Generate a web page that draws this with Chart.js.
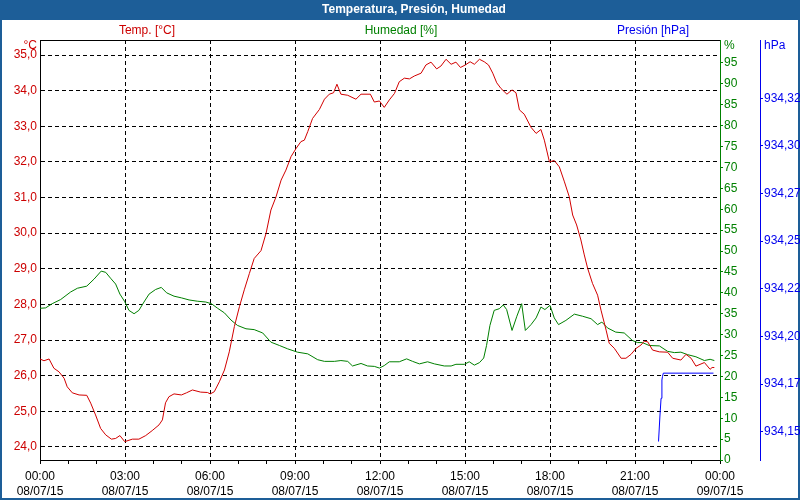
<!DOCTYPE html>
<html>
<head>
<meta charset="utf-8">
<script src="https://cdn.jsdelivr.net/npm/chart.js@4/dist/chart.umd.min.js"></script>
<style>
  html, body { margin: 0; padding: 0; background: #ffffff; }
  #wrap { width: 800px; height: 500px; position: relative; }
</style>
</head>
<body>
<div id="wrap"><canvas id="c" width="800" height="500"></canvas></div>
<script>
// ---------- DATA ----------
const chartTitle = 'Temperatura, Presión, Humedad';
const seriesNames = ['Temp. [°C]', 'Humedad [%]', 'Presión [hPa]'];
const unitNames = ['°C', '%', 'hPa'];

const xMajorHours = [0, 3, 6, 9, 12, 15, 18, 21, 24];
const xTimeLabels = ['00:00', '03:00', '06:00', '09:00', '12:00', '15:00', '18:00', '21:00', '00:00'];
const xDateLabels = ['08/07/15', '08/07/15', '08/07/15', '08/07/15', '08/07/15', '08/07/15', '08/07/15', '08/07/15', '09/07/15'];
const xAllHours = [0,1,2,3,4,5,6,7,8,9,10,11,12,13,14,15,16,17,18,19,20,21,22,23,24];

const tempTicks = [24, 25, 26, 27, 28, 29, 30, 31, 32, 33, 34, 35];
const humTicks = [0, 5, 10, 15, 20, 25, 30, 35, 40, 45, 50, 55, 60, 65, 70, 75, 80, 85, 90, 95];
const presTicks = [934.15, 934.175, 934.2, 934.225, 934.25, 934.275, 934.3, 934.325];
const presTickLabels = ['934,15', '934,17', '934,20', '934,22', '934,25', '934,27', '934,30', '934,32'];

const tempHours = [0.00,0.14,0.32,0.49,0.67,0.85,0.96,1.14,1.38,1.65,1.79,1.96,2.14,2.32,2.52,2.67,2.82,2.99,3.26,3.49,3.73,3.96,4.20,4.32,4.43,4.55,4.73,4.99,5.17,5.38,5.67,5.91,6.01,6.15,6.33,6.51,6.68,6.86,7.04,7.21,7.39,7.56,7.80,7.98,8.15,8.33,8.51,8.68,8.86,9.04,9.21,9.33,9.45,9.62,9.86,10.04,10.21,10.36,10.48,10.62,10.86,11.15,11.33,11.66,11.80,11.98,12.15,12.33,12.51,12.68,12.86,13.04,13.21,13.45,13.62,13.80,14.00,14.15,14.33,14.51,14.68,14.84,15.01,15.18,15.33,15.51,15.68,15.83,15.98,16.12,16.27,16.48,16.66,16.80,16.92,17.09,17.33,17.51,17.68,17.80,17.98,18.15,18.33,18.51,18.68,18.80,18.94,19.09,19.21,19.33,19.50,19.68,19.80,19.98,20.09,20.27,20.51,20.68,20.86,21.04,21.21,21.33,21.45,21.62,21.86,22.15,22.33,22.62,22.80,22.98,23.15,23.45,23.65,23.72,23.80];
const tempValues = [26.47,26.42,26.47,26.21,26.11,25.93,25.69,25.52,25.46,25.45,25.23,24.90,24.52,24.34,24.22,24.24,24.32,24.15,24.22,24.22,24.32,24.46,24.62,24.76,25.24,25.41,25.49,25.46,25.52,25.60,25.54,25.53,25.49,25.55,25.83,26.16,26.67,27.38,27.94,28.41,28.87,29.29,29.51,30.00,30.65,31.02,31.49,31.77,32.15,32.38,32.57,32.61,32.85,33.22,33.47,33.76,33.90,33.94,34.18,33.90,33.87,33.76,33.90,33.90,33.68,33.71,33.53,33.74,33.92,34.25,34.35,34.33,34.41,34.49,34.72,34.80,34.61,34.69,34.88,34.74,34.80,34.65,34.72,34.81,34.74,34.88,34.81,34.72,34.49,34.22,34.06,33.90,34.02,33.94,33.46,33.34,32.97,32.80,32.91,32.61,32.00,32.04,31.86,31.44,31.02,30.51,30.23,29.81,29.39,29.01,28.59,28.26,27.84,27.28,26.91,26.77,26.49,26.49,26.60,26.77,26.86,26.97,26.95,26.72,26.67,26.66,26.49,26.44,26.60,26.49,26.27,26.37,26.18,26.23,26.23];

const humHours = [0.00,0.20,0.43,0.73,1.08,1.32,1.65,1.91,2.16,2.32,2.49,2.67,2.82,2.99,3.14,3.32,3.49,3.67,3.85,4.08,4.28,4.47,4.73,4.99,5.26,5.55,5.85,6.05,6.27,6.51,6.74,6.97,7.27,7.56,7.86,8.15,8.45,8.74,9.09,9.45,9.80,10.04,10.39,10.62,10.86,11.03,11.33,11.56,11.80,11.98,12.15,12.33,12.68,12.94,13.15,13.39,13.68,13.92,14.27,14.51,14.68,14.98,15.15,15.33,15.51,15.66,15.76,15.88,16.03,16.21,16.35,16.47,16.66,16.83,17.00,17.13,17.33,17.51,17.68,17.82,18.00,18.15,18.30,18.56,18.86,19.15,19.45,19.68,19.83,20.03,20.32,20.62,20.91,21.09,21.26,21.50,21.86,22.15,22.39,22.62,22.86,23.15,23.45,23.65,23.80];
const humValues = [36.3,36.4,37.4,38.4,40.2,41.1,41.6,43.3,45.2,44.9,43.5,42.1,39.7,37.9,35.8,35.0,35.8,37.8,39.7,40.8,41.3,40.0,39.2,38.8,38.3,38.0,37.8,37.4,36.3,35.2,33.5,32.2,31.4,31.2,30.4,28.2,27.4,26.6,25.8,25.4,24.0,23.6,23.6,23.8,23.6,22.5,23.1,22.5,22.4,22.0,22.6,23.5,23.5,24.2,23.6,23.0,23.5,23.0,22.5,22.5,22.9,22.9,23.5,22.7,23.3,24.4,27.4,32.2,35.8,36.2,37.1,36.0,31.0,34.4,37.4,31.0,32.4,34.0,36.6,36.0,37.0,34.0,32.4,33.4,34.9,34.4,33.8,32.4,33.0,31.6,30.6,30.4,28.6,28.1,28.1,27.4,27.3,26.0,25.7,25.8,25.2,24.7,23.8,24.1,23.8];

const presHours = [21.83, 21.88, 21.92, 21.95, 21.97, 22.00, 23.77];
const presValues = [934.1448, 934.1582, 934.1675, 934.1771, 934.1789, 934.1807, 934.1807];

// ---------- STYLE ----------
const RED = '#cc0000', RED_LINE = '#d20000', GREEN = '#008000', BLUE = '#0000ee', BLUE_LINE = '#0000ff';
const FRAME = '#1d5e98';
const FONT = "'Liberation Sans', Arial, sans-serif";
Chart.defaults.font.family = FONT;
Chart.defaults.font.size = 12;

const toXY = (xs, ys) => xs.map((x, i) => ({ x: x, y: ys[i] }));

const decor = {
  id: 'decor',
  beforeDraw(chart) {
    const ctx = chart.ctx;
    ctx.save();
    ctx.fillStyle = '#ffffff';
    ctx.fillRect(0, 0, 800, 500);
    ctx.fillStyle = FRAME;
    ctx.fillRect(0, 0, 800, 20);
    ctx.fillRect(0, 0, 2, 500);
    ctx.fillRect(798, 0, 2, 500);
    ctx.fillRect(0, 498, 800, 2);
    ctx.restore();
  },
  afterDraw(chart) {
    const ctx = chart.ctx;
    const a = chart.chartArea;
    ctx.save();
    ctx.strokeStyle = '#000';
    ctx.lineWidth = 1;
    ctx.beginPath();
    ctx.moveTo(a.left, a.top + 0.5);
    ctx.lineTo(a.right, a.top + 0.5);
    ctx.stroke();

    ctx.textBaseline = 'middle';
    ctx.font = 'bold 12px ' + FONT;
    ctx.fillStyle = '#ffffff';
    ctx.textAlign = 'center';
    ctx.fillText(chartTitle, 414, 10);

    ctx.font = '12px ' + FONT;
    ctx.fillStyle = RED; ctx.fillText(seriesNames[0], 147, 31);
    ctx.fillStyle = GREEN; ctx.fillText(seriesNames[1], 401, 31);
    ctx.fillStyle = BLUE; ctx.fillText(seriesNames[2], 653, 31);

    ctx.fillStyle = RED; ctx.textAlign = 'right'; ctx.fillText(unitNames[0], 37, 46);
    ctx.fillStyle = GREEN; ctx.textAlign = 'left'; ctx.fillText(unitNames[1], 724, 46);
    ctx.fillStyle = BLUE; ctx.textAlign = 'left'; ctx.fillText(unitNames[2], 764, 46);
    ctx.restore();
  }
};

new Chart(document.getElementById('c'), {
  type: 'line',
  data: {
    datasets: [
      { label: seriesNames[2], data: toXY(presHours, presValues), yAxisID: 'yP', borderColor: BLUE_LINE, borderWidth: 1, pointRadius: 0, tension: 0, fill: false },
      { label: seriesNames[0], data: toXY(tempHours, tempValues), yAxisID: 'yT', borderColor: RED_LINE, borderWidth: 1, pointRadius: 0, tension: 0, fill: false },
      { label: seriesNames[1], data: toXY(humHours, humValues), yAxisID: 'yH', borderColor: GREEN, borderWidth: 1, pointRadius: 0, tension: 0, fill: false }
    ]
  },
  options: {
    responsive: false,
    animation: false,
    layout: { padding: { top: 40, left: 0, right: 0, bottom: 0 } },
    plugins: { legend: { display: false }, title: { display: false }, tooltip: { enabled: false } },
    scales: {
      x: {
        type: 'linear', min: 0, max: 24,
        afterBuildTicks: s => { s.ticks = xAllHours.map(v => ({ value: v })); },
        afterFit: s => { s.height = 40; },
        ticks: {
          autoSkip: false, maxRotation: 0, color: '#000', padding: 5,
          font: { size: 12, lineHeight: 1.25 },
          callback: v => { const i = xMajorHours.indexOf(v); return i >= 0 ? [xTimeLabels[i], xDateLabels[i]] : ''; }
        },
        grid: {
          color: c => (c.tick && xMajorHours.indexOf(c.tick.value) >= 0) ? '#000' : 'rgba(0,0,0,0)',
          tickColor: '#000', tickLength: 4, lineWidth: 1, tickBorderDash: []
        },
        border: { color: '#000', width: 1, dash: [4, 3] }
      },
      yT: {
        type: 'linear', position: 'left', min: 23.635, max: 35.421,
        afterBuildTicks: s => { s.ticks = tempTicks.map(v => ({ value: v })); },
        afterFit: s => { s.width = 40; },
        ticks: { color: RED, padding: 3, callback: v => v.toFixed(1).replace('.', ',') },
        grid: { color: '#000', drawTicks: false, lineWidth: 1 },
        border: { color: '#000', width: 1, dash: [4, 3] }
      },
      yH: {
        type: 'linear', position: 'right', min: 0, max: 100.5,
        afterBuildTicks: s => { s.ticks = humTicks.map(v => ({ value: v })); },
        afterFit: s => { s.width = 40; },
        ticks: { color: GREEN, padding: 1, callback: v => String(v) },
        grid: { drawOnChartArea: false, color: GREEN, tickColor: GREEN, tickLength: 3 },
        border: { color: GREEN, width: 1 }
      },
      yP: {
        type: 'linear', position: 'right', min: 934.1351, max: 934.3556,
        afterBuildTicks: s => { s.ticks = presTicks.map(v => ({ value: v })); },
        afterFit: s => { s.width = 40; },
        ticks: { color: BLUE, padding: 1, callback: (v, i) => presTickLabels[i] },
        grid: { drawOnChartArea: false, color: BLUE, tickColor: BLUE, tickLength: 3 },
        border: { color: BLUE, width: 1 }
      }
    }
  },
  plugins: [decor]
});
</script>
</body>
</html>
